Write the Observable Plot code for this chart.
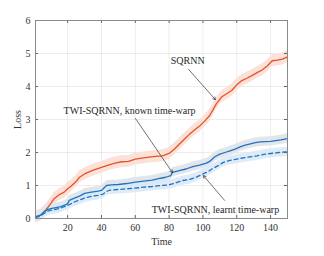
<!DOCTYPE html>
<html><head><meta charset="utf-8">
<script src="https://cdn.jsdelivr.net/npm/d3@7"></script>
<script src="https://cdn.jsdelivr.net/npm/@observablehq/plot@0.6"></script>
<style>body{margin:0;background:#fff;}</style>
</head><body><div id="chart"></div>
<script>
// SQRNN
const sqrnnT = [1,4,7,10,12,15,18,20,22,25,27,30,33,36,40,44,48,52,56,60,64,68,72,76,80,83,86,89,92,95,98,101,104,106,108,111,114,117,120,123,126,129,132,135,138,141,144,147,150];
const sqrnnV = [0.05,0.1,0.25,0.45,0.6,0.72,0.8,0.9,0.98,1.12,1.25,1.35,1.42,1.48,1.55,1.62,1.68,1.72,1.73,1.8,1.83,1.86,1.88,1.9,1.97,2.1,2.25,2.4,2.55,2.68,2.8,2.95,3.12,3.3,3.48,3.68,3.78,3.88,4.05,4.18,4.25,4.33,4.42,4.5,4.62,4.78,4.8,4.83,4.9];
// TWI-SQRNN, known time-warp
const knownT = [1,4,6,8,10,13,16,19,20,21,24,27,30,34,38,40,43,46,50,55,60,65,70,75,78,81,82,86,90,94,98,102,104,107,110,113,116,119,122,125,128,131,134,137,140,143,146,150];
const knownV = [0.05,0.1,0.2,0.27,0.3,0.33,0.36,0.42,0.45,0.55,0.62,0.68,0.76,0.8,0.83,0.85,1.0,1.02,1.03,1.06,1.1,1.13,1.16,1.22,1.25,1.3,1.4,1.45,1.5,1.57,1.62,1.68,1.73,1.87,1.95,2.0,2.05,2.1,2.17,2.22,2.26,2.3,2.32,2.33,2.34,2.36,2.38,2.42];
// TWI-SQRNN, learnt time-warp
const learntT = [1,4,6,8,10,13,16,19,21,24,27,30,34,38,41,43,45,50,55,60,65,70,75,80,84,88,92,96,100,103,106,109,112,116,120,124,128,132,136,140,145,150];
const learntV = [0.03,0.08,0.15,0.22,0.25,0.28,0.32,0.38,0.42,0.5,0.56,0.62,0.67,0.7,0.74,0.82,0.86,0.88,0.9,0.92,0.95,0.97,1.0,1.02,1.08,1.15,1.18,1.25,1.35,1.42,1.52,1.6,1.7,1.76,1.8,1.84,1.87,1.9,1.94,1.97,2.0,2.02];
// band half-widths
const sqrnnSpread = 0.18, knownSpread = 0.14, learntSpread = 0.14;

const xTicks = [20,40,60,80,100,120,140];
const yTicks = [0,1,2,3,4,5,6];

// annotations: label position, arrow start, arrow tip (data units)
const labels = ["SQRNN", "TWI-SQRNN, known time-warp", "TWI-SQRNN, learnt time-warp"];
const labelT = [91, 56.6, 107.4];
const labelV = [4.79, 3.27, 0.27];
const arrowT1 = [91.5, 60.1, 112.8];
const arrowV1 = [4.52, 3.03, 0.55];
const arrowT2 = [107.4, 82, 100.3];
const arrowV2 = [3.6, 1.39, 1.3];

const mk = (T, V, s) => T.map((t, i) => ({t, v: V[i], lo: V[i] - s, hi: V[i] + s}));
const sq = mk(sqrnnT, sqrnnV, sqrnnSpread);
const kn = mk(knownT, knownV, knownSpread);
const le = mk(learntT, learntV, learntSpread);
const ann = labels.map((l, i) => ({l, t: labelT[i], v: labelV[i], t1: arrowT1[i], v1: arrowV1[i], t2: arrowT2[i], v2: arrowV2[i]}));

const red = "#e6522a", blue = "#1f74c4";

const chart = Plot.plot({
  width: 324, height: 256,
  marginLeft: 35, marginRight: 37, marginTop: 20, marginBottom: 38,
  style: {fontFamily: "'Liberation Serif', serif", fontSize: "10px", color: "#333", background: "#fff"},
  x: {domain: [1, 150]},
  y: {domain: [0, 6]},
  marks: [
    Plot.gridX(xTicks, {stroke: "#000", strokeOpacity: 0.07}),
    Plot.gridY(yTicks, {stroke: "#000", strokeOpacity: 0.07}),
    Plot.areaY(sq, {x: "t", y1: "lo", y2: "hi", fill: "#fbe1d7"}),
    Plot.areaY(kn, {x: "t", y1: "lo", y2: "hi", fill: "#e2e6eb"}),
    Plot.areaY(le, {x: "t", y1: "lo", y2: "hi", fill: "#d9e9f7", fillOpacity: 0.85}),
    Plot.line(sq, {x: "t", y: "v", stroke: red, strokeWidth: 1.3}),
    Plot.line(kn, {x: "t", y: "v", stroke: blue, strokeWidth: 1.3}),
    Plot.line(le, {x: "t", y: "v", stroke: blue, strokeWidth: 1.3, strokeDasharray: "4,3"}),
    Plot.ruleX(xTicks, {y1: 0, y2: 0.09, stroke: "#666"}),
    Plot.ruleX(xTicks, {y1: 5.91, y2: 6, stroke: "#666"}),
    Plot.ruleY(yTicks, {x1: 1, x2: 2.8, stroke: "#666"}),
    Plot.ruleY(yTicks, {x1: 148.2, x2: 150, stroke: "#666"}),
    Plot.frame({stroke: "#8a8a8a"}),
    Plot.axisX(xTicks, {tickSize: 0, tickPadding: 5, label: "Time", labelAnchor: "center", labelArrow: "none", labelOffset: 26, fill: "#333"}),
    Plot.axisY(yTicks, {tickSize: 0, tickPadding: 5, label: "Loss", labelAnchor: "center", labelArrow: "none", labelOffset: 22, fill: "#333"}),
    Plot.arrow(ann, {x1: "t1", y1: "v1", x2: "t2", y2: "v2", stroke: "#333", strokeWidth: 0.7, headLength: 6}),
    Plot.text(ann, {x: "t", y: "v", text: "l", fill: "#262626", fontSize: 10})
  ]
});
document.getElementById("chart").appendChild(chart);
</script>
</body></html>
